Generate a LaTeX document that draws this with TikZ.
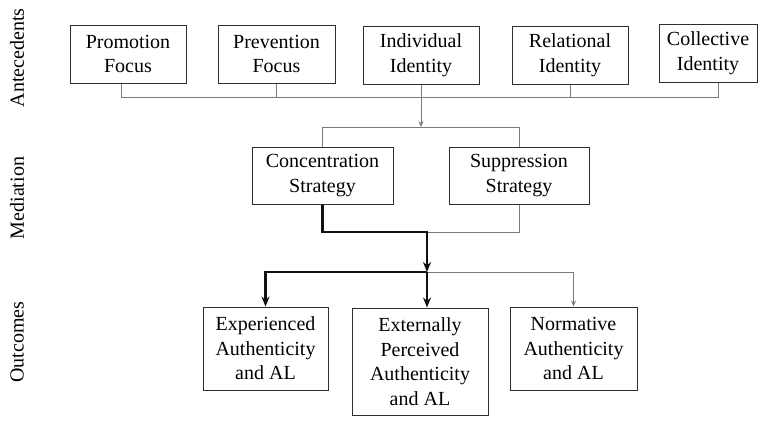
\documentclass[tikz,border=0pt]{standalone}
\usepackage{fontspec}
\setmainfont{Liberation Serif}
\usetikzlibrary{arrows.meta,positioning}
\definecolor{boxgray}{HTML}{2E2E2E}
\definecolor{linegray}{HTML}{7A7A7A}
\definecolor{heavyblack}{HTML}{111111}

\begin{document}
\begin{tikzpicture}[x=1pt, y=-1pt,
  every node/.style={font=\fontsize{20}{24.5}\selectfont, text=black},
  box/.style={draw=boxgray, line width=1pt, align=center, inner sep=0pt},
  feed/.style={linegray, line width=0.9pt},
  heavy/.style={heavyblack, line width=2.2pt},
  tip/.style={-{Stealth[length=6pt, width=5pt]}},
  bigtip/.style={-{Stealth[length=10pt, width=8pt]}}]

  \useasboundingbox (0,0) rectangle (778,421);

  % ---- Row labels ----
  \node[rotate=90] (antlab) at (17,58)  {Antecedents};
  \node[rotate=90] (medlab) at (17,198) {Mediation};
  \node[rotate=90] (outlab) at (17,342) {Outcomes};

  % ---- Antecedents ----
  \node[box, minimum width=116pt, minimum height=58pt] (promo)   at (128,54)   {Promotion\\Focus};
  \node[box, minimum width=117pt, minimum height=58pt] (prev)    at (276.5,54) {Prevention\\Focus};
  \node[box, minimum width=116pt, minimum height=58pt] (indiv)   at (421,55)   {Individual\\Identity};
  \node[box, minimum width=116pt, minimum height=58pt] (relat)   at (570,55)   {Relational\\Identity};
  \node[box, minimum width=98pt,  minimum height=58pt] (collect) at (708,53)   {Collective\\Identity};

  % ---- Mediation ----
  \node[box, minimum width=141pt, minimum height=57pt] (conc) at (322.5,175.5) {Concentration\\Strategy};
  \node[box, minimum width=140pt, minimum height=57pt] (supp) at (519,175.5)   {Suppression\\Strategy};

  % ---- Outcomes ----
  \node[box, minimum width=125pt, minimum height=83pt]  (exper)  at (265.5,348.5) {Experienced\\Authenticity\\and AL};
  \node[box, minimum width=136pt, minimum height=107pt] (extern) at (420,361.5)   {Externally\\Perceived\\Authenticity\\and AL};
  \node[box, minimum width=127pt, minimum height=83pt]  (norm)   at (573.5,348.5) {Normative\\Authenticity\\and AL};

  % ---- Junction points ----
  \coordinate (busL)   at (121,97);
  \coordinate (busR)   at (718,97);
  \coordinate (medbus) at (421,127);
  \coordinate (jmed)   at (427,232);
  \coordinate (jout)   at (427,272);

  % ---- Antecedents to mediation ----
  \draw[feed] (promo.south -| busL) -- (busL) -- (busR) -- (collect.south -| busR);
  \draw[feed] (prev.south) -- (prev.south |- busL);
  \draw[feed] (relat.south) -- (relat.south |- busL);
  \draw[feed, tip] (indiv.south) -- (medbus);
  \draw[feed] (conc.north) -- (conc.north |- medbus) -- (supp.north |- medbus) -- (supp.north);

  % ---- Mediation to outcomes ----
  \draw[feed] (supp.south) |- (jmed);
  \draw[feed, tip] (jout) -| (norm.north);
  \draw[heavy, bigtip] (conc.south) |- (jmed) -- (jout);
  \draw[heavy, bigtip] (jout) -| (exper.north);
  \draw[heavy, bigtip] (jout) -- (jout |- extern.north);

\end{tikzpicture}
\end{document}
